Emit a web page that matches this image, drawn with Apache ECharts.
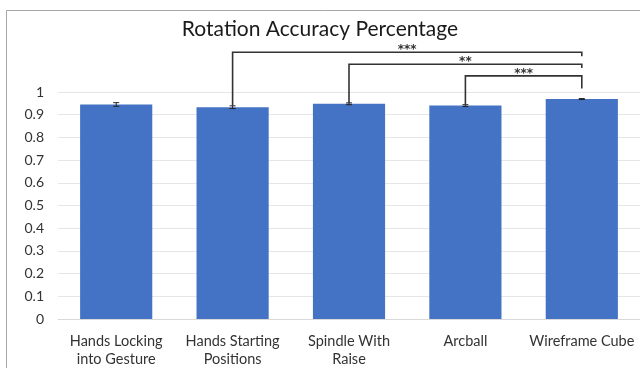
<!DOCTYPE html>
<html>
<head>
<meta charset="utf-8">
<script src="https://cdn.jsdelivr.net/npm/echarts@6/dist/echarts.min.js"></script>
<style>
  html, body { margin: 0; padding: 0; background: #fff; }
  #chart { width: 640px; height: 368px; }
</style>
</head>
<body>
<div id="chart"></div>
<script>
// Rotation techniques compared
const categories = [
  'Hands Locking\ninto Gesture',
  'Hands Starting\nPositions',
  'Spindle With\nRaise',
  'Arcball',
  'Wireframe Cube'
];
// Mean rotation accuracy and standard error per technique
const accuracy = [0.945, 0.933, 0.948, 0.940, 0.969];
const stdError = [0.008, 0.006, 0.004, 0.004, 0.002];
// Y axis tick values
const yTicks = [0, 0.1, 0.2, 0.3, 0.4, 0.5, 0.6, 0.7, 0.8, 0.9, 1];

// Pairwise significance: from index, to index, label, bracket level, right drop level
const sigFrom = [1, 2, 3];
const sigTo = [4, 4, 4];
const sigLabel = ['***', '**', '***'];
const sigLevel = [1.175, 1.122, 1.071];
const sigRightEnd = [1.158, 1.106, 1.015];

const FONT = 'Lato, "Open Sans", sans-serif';

const chart = echarts.init(document.getElementById('chart'));

const errorData = accuracy.map((v, i) => [i, v - stdError[i], v + stdError[i]]);
const sigData = sigFrom.map((f, k) => [f, sigTo[k], sigLevel[k], sigRightEnd[k], k]);

chart.setOption({
  animation: false,
  title: {
    text: 'Rotation Accuracy Percentage',
    left: 'center',
    top: 14,
    textStyle: { fontFamily: FONT, fontSize: 21, fontWeight: 'normal', color: '#1a1a1a' }
  },
  graphic: [{
    type: 'rect',
    shape: { x: 6.5, y: 10.5, width: 700, height: 400 },
    style: { fill: 'none', stroke: '#a6a6a6', lineWidth: 1 },
    silent: true
  }],
  grid: { left: 58, right: 0, top: 92, bottom: 48 },
  xAxis: {
    type: 'category',
    data: categories,
    axisLine: { lineStyle: { color: '#d9d9d9' } },
    axisTick: { show: false },
    axisLabel: {
      fontFamily: FONT, fontSize: 14.5, color: '#333333',
      lineHeight: 18, margin: 13, interval: 0
    }
  },
  yAxis: {
    type: 'value',
    min: yTicks[0],
    max: yTicks[yTicks.length - 1],
    interval: 0.1,
    axisLine: { show: false },
    axisTick: { show: false },
    splitLine: { lineStyle: { color: '#e6e6e6' } },
    axisLabel: {
      fontFamily: FONT, fontSize: 14, color: '#333333', margin: 14,
      formatter: v => String(Math.round(v * 10) / 10)
    }
  },
  series: [
    {
      type: 'bar',
      data: accuracy,
      barWidth: '62%',
      itemStyle: { color: '#4472C4' }
    },
    {
      type: 'custom',
      data: errorData,
      z: 5,
      renderItem: (params, api) => {
        const x = api.coord([api.value(0), 0])[0];
        const lo = api.coord([api.value(0), api.value(1)])[1];
        const hi = api.coord([api.value(0), api.value(2)])[1];
        const w = 3;
        const style = { stroke: '#222', lineWidth: 1 };
        return {
          type: 'group',
          children: [
            { type: 'line', shape: { x1: x, y1: lo, x2: x, y2: hi }, style },
            { type: 'line', shape: { x1: x - w, y1: lo, x2: x + w, y2: lo }, style },
            { type: 'line', shape: { x1: x - w, y1: hi, x2: x + w, y2: hi }, style }
          ]
        };
      }
    },
    {
      type: 'custom',
      data: sigData,
      z: 6,
      clip: false,
      renderItem: (params, api) => {
        const f = api.value(0), t = api.value(1);
        const level = api.value(2), rightEnd = api.value(3);
        const k = api.value(4);
        const leftEndVal = accuracy[f] + stdError[f];
        const xL = api.coord([f, level])[0];
        const xR = api.coord([t, level])[0];
        const y = api.coord([f, level])[1];
        const yL = api.coord([f, leftEndVal])[1];
        const yR = api.coord([t, rightEnd])[1];
        const style = { stroke: '#333', lineWidth: 1.6, fill: 'none' };
        return {
          type: 'group',
          children: [
            { type: 'polyline', shape: { points: [[xL, yL], [xL, y], [xR, y], [xR, yR]] }, style },
            {
              type: 'text',
              style: {
                text: sigLabel[k], x: (xL + xR) / 2, y: y - 2,
                textAlign: 'center', textVerticalAlign: 'middle',
                font: 'bold 12px "DejaVu Sans", sans-serif', fill: '#333'
              }
            }
          ]
        };
      }
    }
  ]
});
</script>
</body>
</html>
